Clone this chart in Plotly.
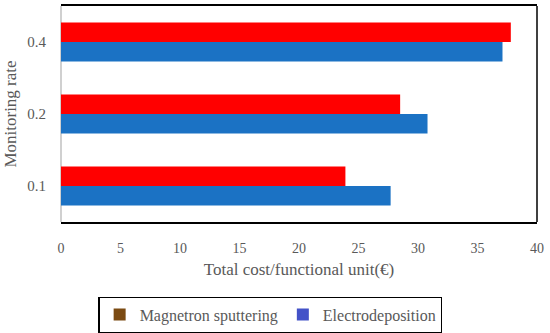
import plotly.graph_objects as go

categories = ["0.1", "0.2", "0.4"]
magnetron = [23.9, 28.5, 37.8]
electro = [27.7, 30.8, 37.1]
x_ticks = [0, 5, 10, 15, 20, 25, 30, 35, 40]

FONT = "Liberation Serif"
GRAY = "#595959"

fig = go.Figure()
# bars (blue first so red sits on top within each group)
fig.add_trace(go.Bar(y=categories, x=electro, orientation="h",
                     marker=dict(color="#1B72C4", line=dict(width=0)),
                     name="Electrodeposition", showlegend=False))
fig.add_trace(go.Bar(y=categories, x=magnetron, orientation="h",
                     marker=dict(color="#FF0000", line=dict(width=0)),
                     name="Magnetron sputtering", showlegend=False))
# legend entries
fig.add_trace(go.Scatter(x=[None], y=[None], mode="markers",
                         marker=dict(symbol="square", size=10, color="#7B4A12"),
                         name="Magnetron sputtering"))
fig.add_trace(go.Scatter(x=[None], y=[None], mode="markers",
                         marker=dict(symbol="square", size=10, color="#4352C8"),
                         name="Electrodeposition"))

fig.update_layout(
    width=550, height=333,
    margin=dict(l=61, r=13, t=6, b=111, autoexpand=False),
    paper_bgcolor="white", plot_bgcolor="white",
    barmode="group", bargap=0.46, bargroupgap=0,
    font=dict(family=FONT, size=14, color=GRAY),
    legend=dict(orientation="h", x=0.44, xanchor="center", y=-0.345, yanchor="top",
                bordercolor="black", borderwidth=1.2,
                font=dict(family=FONT, size=16, color=GRAY),
                itemsizing="constant", itemwidth=30, tracegroupgap=0),
    xaxis=dict(range=[0, 40], tickvals=x_ticks, showgrid=False, automargin=False,
               showline=True, linecolor="black", linewidth=1.5, mirror=True,
               zeroline=True, zerolinecolor="#D0D0D0", zerolinewidth=1.5,
               ticks="", ticklabelstandoff=12, tickfont=dict(size=14, color=GRAY),
               title=dict(text="Total cost/functional unit(€)",
                          font=dict(size=17, color=GRAY), standoff=9)),
    yaxis=dict(type="category", categoryorder="array", categoryarray=categories,
               showgrid=False, showline=False, ticks="", automargin=False,
               ticklabelstandoff=14, tickfont=dict(size=15, color=GRAY),
               title=dict(text="Monitoring rate", font=dict(size=17, color=GRAY), standoff=6)),
    shapes=[dict(type="line", xref="paper", yref="paper", x0=1, x1=1, y0=0, y1=1,
                 line=dict(color="black", width=1.5))],
)

fig.write_html("out.html", config={"displayModeBar": False},
               post_script="document.body.style.margin='0';document.body.style.overflow='hidden';")
